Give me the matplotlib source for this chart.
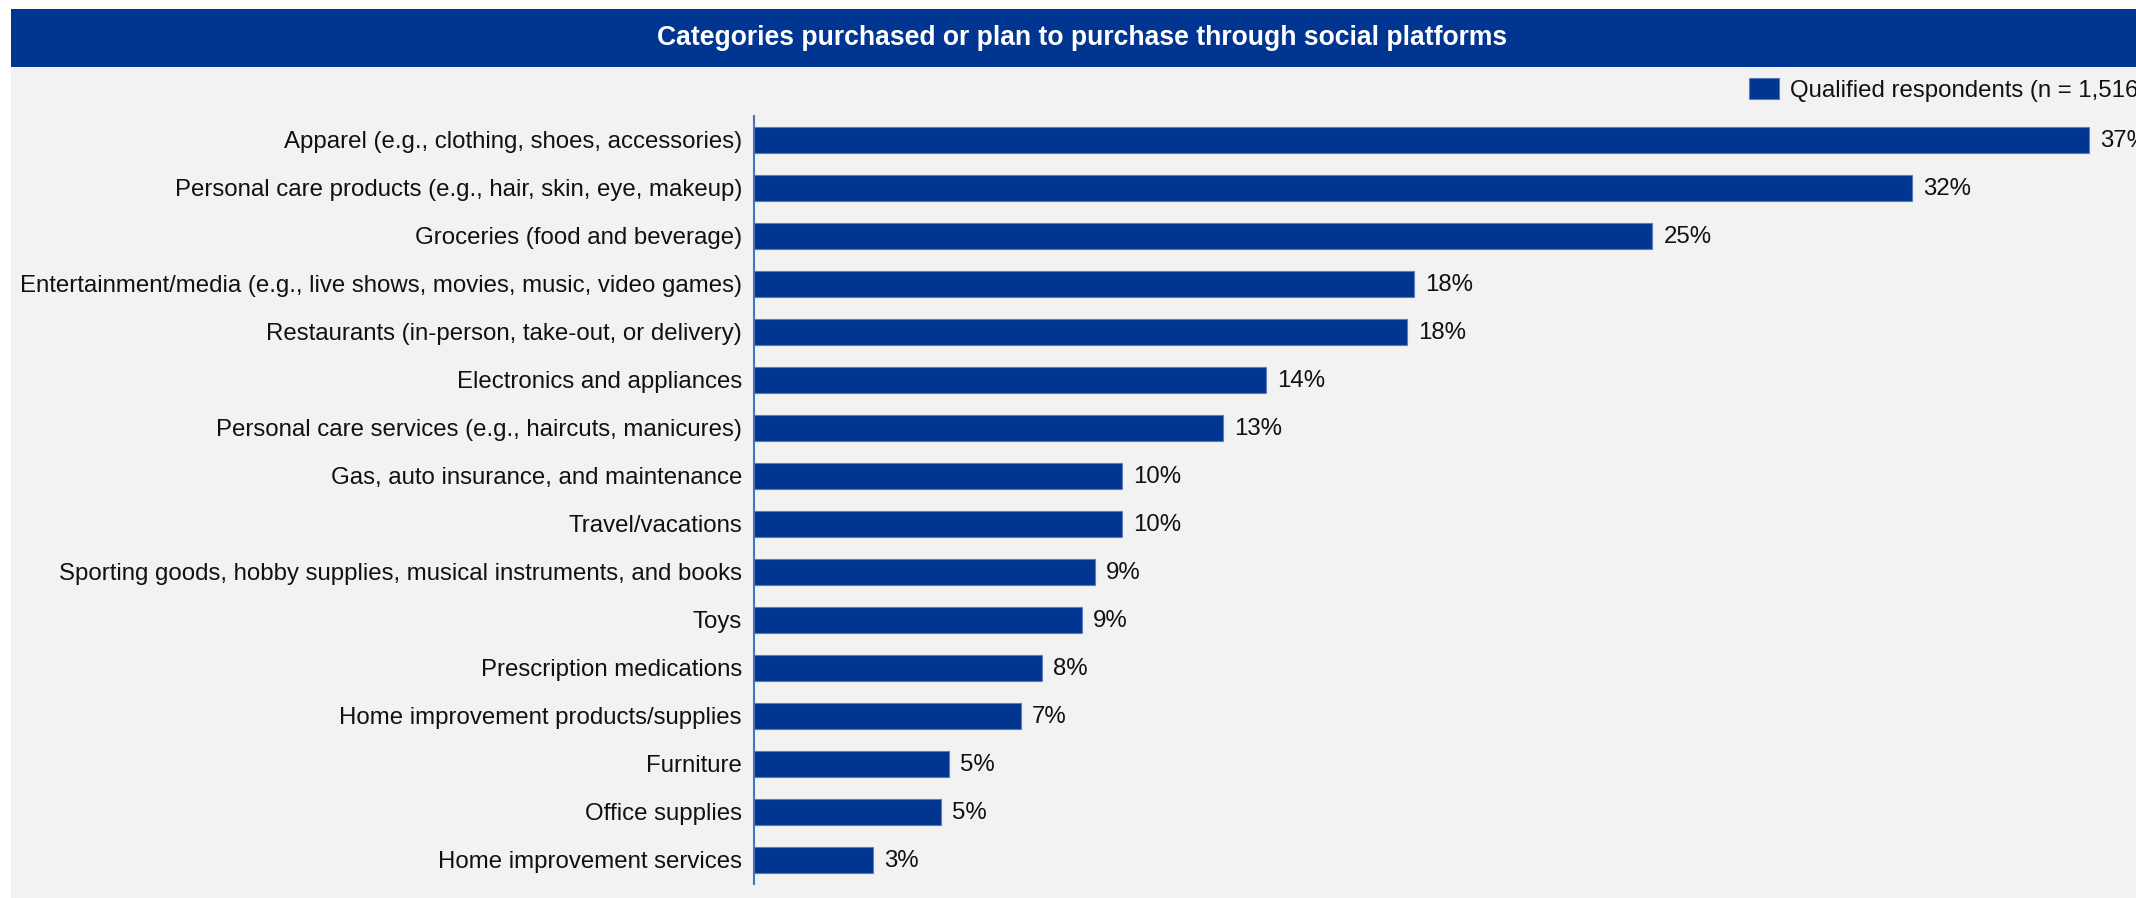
import matplotlib
matplotlib.use("Agg")
import matplotlib.pyplot as plt
from matplotlib.patches import Rectangle

plt.rcParams["font.family"] = ["Liberation Sans", "DejaVu Sans"]

# Survey shares (%) by category, top to bottom
categories = [
    "Apparel (e.g., clothing, shoes, accessories)",
    "Personal care products (e.g., hair, skin, eye, makeup)",
    "Groceries (food and beverage)",
    "Entertainment/media (e.g., live shows, movies, music, video games)",
    "Restaurants (in-person, take-out, or delivery)",
    "Electronics and appliances",
    "Personal care services (e.g., haircuts, manicures)",
    "Gas, auto insurance, and maintenance",
    "Travel/vacations",
    "Sporting goods, hobby supplies, musical instruments, and books",
    "Toys",
    "Prescription medications",
    "Home improvement products/supplies",
    "Furniture",
    "Office supplies",
    "Home improvement services",
]
shares = [37.0, 32.1, 24.9, 18.3, 18.1, 14.2, 13.0, 10.2, 10.2, 9.45, 9.1,
          8.0, 7.4, 5.4, 5.2, 3.3]
series_name = "Qualified respondents (n = 1,516)"
title = "Categories purchased or plan to purchase through social platforms"

W, H = 2136, 898
NAVY = "#003591"
GRAY = "#f2f2f2"
AXIS_BLUE = "#4a72c0"
FS = 17.3

fig = plt.figure(figsize=(W / 100, H / 100), dpi=100, facecolor="white")

# Gray panel and title banner
fig.add_artist(Rectangle((11 / W, 0), 1 - 11 / W, (H - 67) / H,
                         transform=fig.transFigure, facecolor=GRAY,
                         edgecolor="none", zorder=0))
fig.add_artist(Rectangle((11 / W, (H - 67) / H), 1 - 11 / W, 58 / H,
                         transform=fig.transFigure, facecolor=NAVY,
                         edgecolor="none", zorder=0))
fig.text(1082 / W, (H - 38) / H, title, color="white", fontsize=19.1,
         fontweight="bold", ha="center", va="center")

# Plot area
left_px, right_px = 753.6, W
top_px, bottom_px = 115.7, 883.7
ax = fig.add_axes([left_px / W, (H - bottom_px) / H,
                   (right_px - left_px) / W, (bottom_px - top_px) / H])
ax.set_facecolor("none")

px_per_unit = 36.1
ax.set_xlim(0, (right_px - left_px) / px_per_unit)
ypos = list(range(len(categories)))
bars = ax.barh(ypos, shares, height=0.54, color=NAVY, edgecolor="#5a7cc0",
               linewidth=0.8, label=series_name)
ax.set_ylim(len(categories) - 0.5, -0.5)

ax.set_yticks(ypos)
ax.set_yticklabels(categories, fontsize=FS, color="#111111")
ax.tick_params(axis="y", length=0, pad=8.4)
ax.set_xticks([])
for side in ("top", "right", "bottom"):
    ax.spines[side].set_visible(False)
ax.spines["left"].set_color(AXIS_BLUE)
ax.spines["left"].set_linewidth(1.5)

offset = 11 / px_per_unit
for y, v in zip(ypos, shares):
    ax.text(v + offset, y + 0.03, f"{v:.0f}%", va="center", ha="left",
            fontsize=FS, color="#111111", clip_on=False)

leg = ax.legend(handles=[bars], loc="center left",
                bbox_to_anchor=(1749 / W, (H - 90) / H),
                bbox_transform=fig.transFigure, frameon=False,
                fontsize=FS, borderpad=0, borderaxespad=0,
                handlelength=30 / 24.0, handleheight=23 / 24.0,
                handletextpad=11 / 24.0)
for t in leg.get_texts():
    t.set_color("#111111")

fig.savefig("out.png", dpi=100, facecolor="white")
